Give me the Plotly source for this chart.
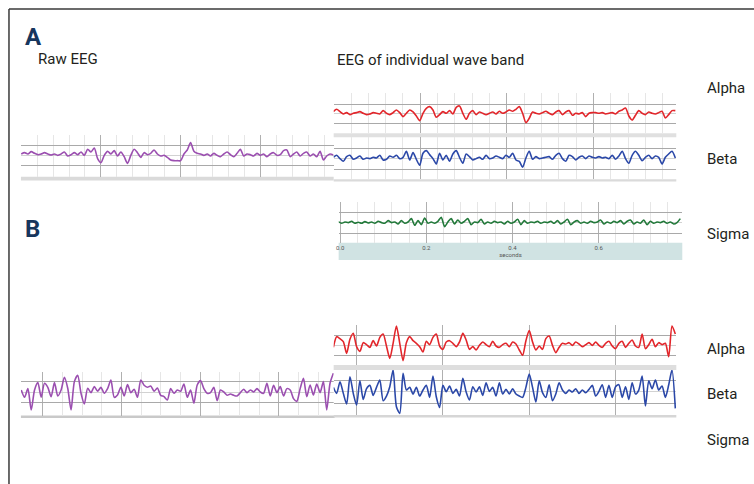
import numpy as np
import plotly.graph_objects as go

W, H = 754, 484

# ---- data: amplitudes (arbitrary units), evenly sampled ----
RAW_A = [0,4,0,7,2,-2,0,4,0,-3, 0,-4,0,6,-6,-2,4,-2,6,-4, 14,6,18,-14,-26,-4,8,0,10,-6,
         6,-8,-28,-4,14,4,-10,4,-2,2, 12,0,-6,-4,-10,-18,-20,-20,-20,0, 12,34,8,2,0,-4,0,-6,2,-4,
         -8,0,6,-2,-8,2,14,-6,0,-2, -6,2,-4,0,-8,0,4,-4,-2,10, 12,-8,0,6,-6,2,6,-6,0,-8,
         8,-18,-6,0,-3]
ALPHA_A = [5,12,5,-2,2,-4,0,2,5,0, -4,-2,2,0,-2,8,0,-4,2,10, 2,-10,0,10,4,-8,-22,0,15,20,
           10,-12,-4,5,0,8,-2,18,22,0, -18,0,8,-4,4,0,-4,0,4,-2, 6,0,4,10,6,12,20,0,-28,-15,
           4,0,-2,2,6,0,-4,4,8,-4, 4,8,-6,0,-2,2,-10,0,2,2, 0,2,-2,0,2,-2,6,10,16,-8,
           -20,-6,8,0,-4,4,0,-2,2,6, -14,-4,8,8]
BETA_A = [0,6,-4,-12,2,6,-6,-2,4,-6, -2,-4,0,-2,6,-8,-6,4,0,6, -4,0,18,-8,14,-6,-24,12,20,8,
          -4,-20,12,-8,6,-12,10,20,0,-18, 10,2,-8,-4,0,-6,6,-4,-2,4, 0,-4,6,0,12,-8,-12,-30,-2,18,
          -6,2,-4,-2,0,2,-6,6,12,-4, -12,6,2,-8,0,4,-4,4,0,-2, 2,-2,0,-4,6,-6,4,18,-4,-18,
          6,18,6,-10,0,6,-4,4,0,-20, 0,10,18,-2]
SIGMA_A = [2,-3,1,-1,3,-3,0,-3,2,-2, 1,-3,3,-1,-3,5,-1,1,-5,5, -3,1,11,-9,5,-7,13,-3,1,-3,
           3,15,-13,1,11,-5,7,-3,3,11, -7,1,-1,9,-5,1,-3,3,-1,1, -5,3,-3,1,9,-7,5,-3,1,-1,
           3,-3,1,-1,3,-3,5,-5,1,9, -7,1,5,-3,1,-3,3,-1,1,7, -5,1,-3,3,-1,5,-5,3,7,-5,
           1,-3,7,-7,3,-3,1,-1,3,-3, 1,-5,-1,11]
RAW_B = [7,-15,11,-53,7,29,-15,27,15,-13, 29,-11,7,45,12,-53,32,51,-3,-35, 12,-1,17,3,15,-3,11,37,-15,-8,
         15,-11,23,-1,9,-15,37,21,15,19, 3,13,-9,-13,-23,11,-3,7,3,25, -15,7,-33,22,35,11,-3,-1,15,-25,
         7,1,-9,-5,-9,-11,-1,9,-1,7, 1,11,1,-3,27,-11,21,-1,17,-11, 11,7,-19,-27,11,42,-13,22,-8,25,
         -1,32,-53,27,57]
ALPHA_B = [-7,25,19,10,-25,17,35,-5,-19,7, 1,-7,13,-3,23,33,-3,-40,5,57, 5,-47,7,25,13,5,-5,-21,11,1,
           23,33,-3,-13,9,13,5,-5,9,35, 15,-13,-5,-15,-1,9,1,-5,11,-3, -7,1,5,-5,9,3,-15,-31,13,43,
           9,-15,-3,-13,19,27,-1,-23,-7,5, 3,7,-1,9,3,-5,1,7,-1,9, -1,-7,5,11,-3,-11,5,11,-7,5,
           15,-3,-7,33,-11,1,17,-5,7,1, 5,-35,57,33]
BETA_B = [13,-5,30,-5,-37,45,-5,-40,33,-23, 9,19,-11,13,35,-27,-13,15,65,-45, -65,55,5,13,-7,13,-13,5,19,-17,
          47,-15,-47,19,0,17,-5,7,-13,40, -1,-25,15,-1,15,-11,27,1,13,-13, 27,-7,7,-7,9,-7,-13,-17,13,53,
          13,-31,33,-3,-17,21,-27,-7,27,5, -5,5,-1,9,-5,5,-3,7,19,-13, 1,21,-17,19,-17,15,21,-17,15,-23,
          27,-7,5,47,-43,33,9,35,5,17, -17,20,65,-50]

BAND_LABELS = ["Alpha", "Beta", "Sigma"]
SIGMA_TICK_LABELS = ["0.0", "0.2", "0.4", "0.6"]
SAMPLE_MS = 4

PURPLE, RED, BLUE, GREEN = "#9b4fb0", "#e2262b", "#2b48a8", "#22793a"
FONT = "Roboto, Liberation Sans, sans-serif"

SPX = 10 / 3   # pixels per sample
UPP = 3        # amplitude units per pixel

panels = [
    dict(v=RAW_A, c=PURPLE, first=18.33, L=18, R=332, top=135, bot=176.7, mid=154,
         hmaj=[145, 165.7, 176.7], hmin=[135, 155.7], vstart=18.3, vstep=16, vevery=5,
         band=(176.7, 180.5, "#dadada")),
    dict(v=ALPHA_A, c=RED, first=331.67, L=332, R=676, top=93.3, bot=133.3, mid=113.3,
         hmaj=[104, 123.3], hmin=[93.3, 113.3], vstart=332, vstep=17.4, vevery=5,
         band=(133.3, 137.3, "#e0e0e0")),
    dict(v=BETA_A, c=BLUE, first=331.67, L=332, R=676, top=137.3, bot=179.3, mid=157.3,
         hmaj=[148, 169], hmin=[137.3, 158], vstart=332, vstep=17.4, vevery=5,
         band=(179.3, 181.5, "#dadada")),
    dict(v=SIGMA_A, c=GREEN, first=336.67, L=337, R=682, top=202.3, bot=242.7, mid=222.3,
         hmaj=[212.7, 233.3], hmin=[202.3, 222.3], vstart=338.5, vstep=17.3, vevery=5,
         band=(242.7, 260, "#d0e3e3"), axisline=True),
    dict(v=RAW_B, c=PURPLE, first=18.33, L=18, R=333, top=371.7, bot=416, mid=392.3,
         hmaj=[381.7, 402.7], hmin=[371.7, 392.3], vstart=40, vstep=19.75, vevery=4,
         band=(415.5, 418, "#c9c9c9")),
    dict(v=ALPHA_B, c=RED, first=331.67, L=332, R=676, top=325, bot=365, mid=345,
         hmaj=[335, 355.7], hmin=[325, 345], vstart=355, vstep=86.7, vevery=1,
         band=(365, 370, "#dedede")),
    dict(v=BETA_B, c=BLUE, first=331.67, L=332, R=676, top=370, bot=415, mid=391.7,
         hmaj=[380.7, 403.3], hmin=[370, 391.7], vstart=355, vstep=86.7, vevery=1,
         band=(415, 417.5, "#d6d6d6")),
]

fig = go.Figure()
shapes = []

def px2x(p, px):
    return (px - p["first"]) / SPX * SAMPLE_MS

def px2y(p, py):
    return (p["mid"] - py) * UPP

for k, p in enumerate(panels, start=1):
    n = len(p["v"])
    t = np.arange(n) * SAMPLE_MS
    xa, ya = f"x{k}", f"y{k}"
    fig.add_trace(go.Scatter(x=t, y=p["v"], mode="lines", xaxis=xa, yaxis=ya,
                             line=dict(color=p["c"], width=1.6, shape="spline", smoothing=0.7),
                             hoverinfo="skip", showlegend=False))
    vmaj, vmin = [], []
    j = 0
    while True:
        px = p["vstart"] + j * p["vstep"]
        if px > p["R"] + 0.1:
            break
        if px >= p["L"] - 0.1:
            (vmaj if j % p["vevery"] == 0 else vmin).append(px2x(p, px))
        j += 1
    xaxis = dict(domain=[p["L"] / W, p["R"] / W],
                 range=[px2x(p, p["L"]), px2x(p, p["R"])],
                 showgrid=True, gridcolor="#b0b0b0", gridwidth=1,
                 tickmode="array", tickvals=vmaj, showticklabels=False,
                 minor=dict(tickmode="array", tickvals=vmin, showgrid=True,
                            gridcolor="#e6e6e6", gridwidth=1),
                 zeroline=False, showline=False, anchor=ya, fixedrange=True)
    if p.get("axisline"):
        xaxis.update(showticklabels=True, ticktext=SIGMA_TICK_LABELS,
                     tickfont=dict(size=6, color="#555", family=FONT),
                     title=dict(text="seconds", font=dict(size=6, color="#555", family=FONT),
                                standoff=0), ticks="")
    yaxis = dict(domain=[1 - p["bot"] / H, 1 - p["top"] / H],
                 range=[px2y(p, p["bot"]), px2y(p, p["top"])],
                 showgrid=True, gridcolor="#a9a9a9", gridwidth=1,
                 tickmode="array", tickvals=[px2y(p, g) for g in p["hmaj"]],
                 showticklabels=False,
                 minor=dict(tickmode="array", tickvals=[px2y(p, g) for g in p["hmin"]],
                            showgrid=True, gridcolor="#d2d2d2", gridwidth=1),
                 zeroline=False, showline=False, anchor=xa, fixedrange=True)
    fig.layout[f"xaxis{k}"] = xaxis
    fig.layout[f"yaxis{k}"] = yaxis
    b0, b1, bc = p["band"]
    shapes.append(dict(type="rect", xref="paper", yref="paper", layer="below",
                       x0=p["L"] / W, x1=p["R"] / W, y0=1 - b1 / H, y1=1 - b0 / H,
                       fillcolor=bc, line=dict(width=0)))

# frame (top and left edges)
shapes.append(dict(type="line", xref="paper", yref="paper", x0=6 / W, x1=1, y0=1 - 9 / H, y1=1 - 9 / H,
                   line=dict(color="#3a3a3a", width=1.5)))
shapes.append(dict(type="line", xref="paper", yref="paper", x0=6 / W, x1=6 / W, y0=0, y1=1 - 9 / H,
                   line=dict(color="#3a3a3a", width=1.5)))

ann = []
def label(text, x, y, size=15, bold=False, color="#231f20"):
    ann.append(dict(text=f"<b>{text}</b>" if bold else text, x=x / W, y=1 - y / H,
                    xref="paper", yref="paper", xanchor="left", yanchor="middle",
                    showarrow=False, font=dict(family=FONT, size=size, color=color)))

label("A", 20, 37, size=24, bold=True, color="#17365d")
label("B", 20, 229, size=24, bold=True, color="#17365d")
label("Raw EEG", 33, 59, size=15)
label("EEG of individual wave band", 333, 60, size=15)
for name, yy in zip(BAND_LABELS, [88, 159, 234]):
    label(name, 705, yy, size=15)
for name, yy in zip(BAND_LABELS, [349, 394, 440]):
    label(name, 705, yy, size=15)

fig.update_layout(width=W, height=H, margin=dict(l=0, r=0, t=0, b=0),
                  paper_bgcolor="white", plot_bgcolor="white",
                  shapes=shapes, annotations=ann, showlegend=False)

fig.write_html("out.html")
